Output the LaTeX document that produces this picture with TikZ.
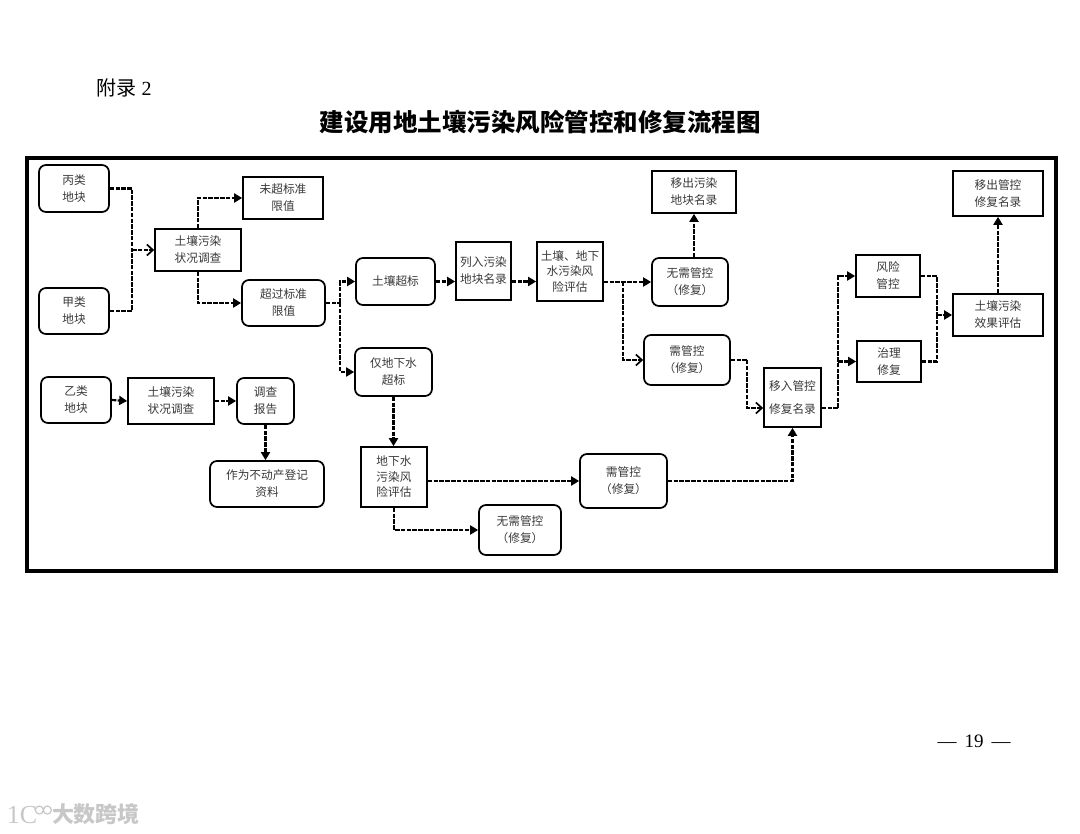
\documentclass[tikz,border=0pt]{standalone}
\usepackage{fontspec}
\setmainfont{Liberation Serif}
\newfontfamily\cjk{Noto Sans CJK SC}
\usetikzlibrary{arrows.meta,calc}
\tikzset{
  rectbox/.style={
    draw,
    line width=1.7pt,
    inner sep=0pt,
    align=center,
    text=black!78,
    font=\cjk\fontsize{11.7}{17}\selectfont
  },
  roundbox/.style={
    rectbox,
    rounded corners=7pt
  },
  tightbox/.style={
    font=\cjk\fontsize{11.7}{15.5}\selectfont
  },
  widebox/.style={
    font=\cjk\fontsize{11.7}{23}\selectfont
  },
  flowline/.style={
    line width=2.2pt,
    dash pattern=on 4.5pt off 1.3pt
  },
  flow/.style={
    flowline,
    -{Triangle[length=8pt,width=9pt]}
  },
  flowopen/.style={
    flowline,
    -{Straight Barb[length=6pt,width=11pt,line width=1.7pt]}
  }
}
\begin{document}
\begin{tikzpicture}[x=1pt,y=-1pt]
  \useasboundingbox (0,0) rectangle (1080,834);
  \node[font=\cjk\fontsize{20}{20}\selectfont,inner sep=0pt] (appendix) at (124,88) {附录\hspace{5pt}{\rmfamily 2}};
  \node[font=\cjk\bfseries\fontsize{24.5}{24.5}\selectfont,inner sep=0pt] (title) at (540,122) {建设用地土壤污染风险管控和修复流程图};
  \node[draw,line width=3.4pt,minimum width=1029pt,minimum height=413pt,inner sep=0pt] (frame) at (541.5,364.5) {};

  % first row, left
  \node[roundbox,minimum width=70pt,minimum height=47pt] (bing) at (74,188.5) {丙类\\地块};
  \node[roundbox,minimum width=70pt,minimum height=46pt] (jia) at (74,311) {甲类\\地块};
  \node[rectbox,minimum width=86pt,minimum height=42pt] (survey) at (198,250) {土壤污染\\状况调查};
  \node[rectbox,minimum width=80pt,minimum height=42pt] (below) at (283,198) {未超标准\\限值};
  \node[roundbox,minimum width=83pt,minimum height=46pt] (above) at (283.5,303) {超过标准\\限值};
  \node[roundbox,minimum width=79pt,minimum height=47pt] (soil) at (395.5,281.5) {土壤超标};
  \node[roundbox,minimum width=77pt,minimum height=48pt] (water) at (393.5,372) {仅地下水\\超标};
  \node[rectbox,minimum width=55pt,minimum height=58pt] (listed) at (483.5,271) {列入污染\\地块名录};
  \node[rectbox,tightbox,minimum width=66pt,minimum height=59pt] (assess) at (570,271.5) {土壤、地下\\水污染风\\险评估};
  \node[roundbox,minimum width=76pt,minimum height=48pt] (nocontrol) at (690,282) {无需管控\\（修复）};
  \node[rectbox,minimum width=84pt,minimum height=42pt] (removed) at (694,192) {移出污染\\地块名录};
  \node[roundbox,minimum width=86pt,minimum height=50pt] (control) at (687,360) {需管控\\（修复）};
  \node[rectbox,widebox,minimum width=57pt,minimum height=59pt] (moved) at (792.5,397.5) {移入管控\\修复名录};
  \node[rectbox,minimum width=64pt,minimum height=42pt] (risk) at (888,276) {风险\\管控};
  \node[rectbox,minimum width=64pt,minimum height=41pt] (treat) at (889,361.5) {治理\\修复};
  \node[rectbox,minimum width=90pt,minimum height=42pt] (effect) at (998,315) {土壤污染\\效果评估};
  \node[rectbox,minimum width=90pt,minimum height=45pt] (removedb) at (998,193.5) {移出管控\\修复名录};

  % lower rows
  \node[roundbox,minimum width=70pt,minimum height=46pt] (yi) at (76,400) {乙类\\地块};
  \node[rectbox,minimum width=86pt,minimum height=46pt] (surveyb) at (171,401) {土壤污染\\状况调查};
  \node[roundbox,minimum width=57pt,minimum height=46pt] (report) at (265.5,401) {调查\\报告};
  \node[roundbox,minimum width=114pt,minimum height=46pt] (record) at (267,484) {作为不动产登记\\资料};
  \node[rectbox,tightbox,minimum width=66pt,minimum height=60pt] (assessb) at (394,477) {地下水\\污染风\\险评估};
  \node[roundbox,minimum width=87pt,minimum height=54pt] (controlb) at (623.5,481) {需管控\\（修复）};
  \node[roundbox,minimum width=82pt,minimum height=50pt] (nocontrolb) at (520,530) {无需管控\\（修复）};

  \coordinate (jctA) at (132,250);
  \coordinate (jctB) at (340,303);
  \coordinate (jctC) at (623,282);
  \coordinate (jctD) at (747,360);
  \coordinate (jctE) at (838,408);
  \coordinate (jctF) at (937,315);
  \coordinate (movedin) at ([yshift=-10.5pt]moved.west);
  \coordinate (movedout) at ([yshift=-10.5pt]moved.east);

  \draw[flowline] (bing.east) -| (jctA);
  \draw[flowline] (jia.east) -| (jctA);
  \draw[flowopen] (jctA) -- (survey.west);
  \draw[flow] (survey.north) |- (below.west);
  \draw[flow] (survey.south) |- (above.west);
  \draw[flowline] (above.east) -- (jctB);
  \draw[flow] (jctB) |- (soil.west);
  \draw[flow] (jctB) |- (water.west);
  \draw[flow] (soil.east) -- (listed.west |- soil.east);
  \draw[flow] (listed.east |- soil.east) -- (assess.west |- soil.east);
  \draw[flow] (assess.east |- nocontrol.west) -- (nocontrol.west);
  \draw[flowopen] (jctC) |- (control.west);
  \draw[flow] (removed.south |- nocontrol.north) -- (removed.south);
  \draw[flowline] (control.east) -- (jctD);
  \draw[flowopen] (jctD) |- (movedin);
  \draw[flowline] (movedout) -- (jctE);
  \draw[flow] (jctE) |- (risk.west);
  \draw[flow] (jctE |- treat.west) -- (treat.west);
  \draw[flowline] (risk.east) -| (jctF);
  \draw[flowline] (treat.east) -| (jctF);
  \draw[flow] (jctF) -- (effect.west);
  \draw[flow] (effect.north) -- (removedb.south);
  \draw[flow] (yi.east) -- (surveyb.west);
  \draw[flow] (surveyb.east) -- (report.west);
  \draw[flow] (report.south) -- (report.south |- record.north);
  \draw[flow] (water.south) -- (water.south |- assessb.north);
  \draw[flow] (assessb.east |- controlb.west) -- (controlb.west);
  \draw[flow] (controlb.east) -| (moved.south);
  \draw[flow] (assessb.south) |- (nocontrolb.west);

  \node[font=\fontsize{19}{19}\selectfont,inner sep=0pt] (page) at (974,741) {—\hspace{8pt}19\hspace{8pt}—};
  \node[font=\cjk\bfseries\fontsize{22}{22}\selectfont,text=black!22,inner sep=0pt] (mark) at (96,814) {大数跨境};
  \node[font=\rmfamily\fontsize{26}{26}\selectfont,text=black!22,inner sep=0pt] (logo) at (22,815) {1C};
  \draw[black!22,line width=1.2pt] (logo.north east) ++(2,4) circle (4) ++(8,0) circle (4);
\end{tikzpicture}
\end{document}
